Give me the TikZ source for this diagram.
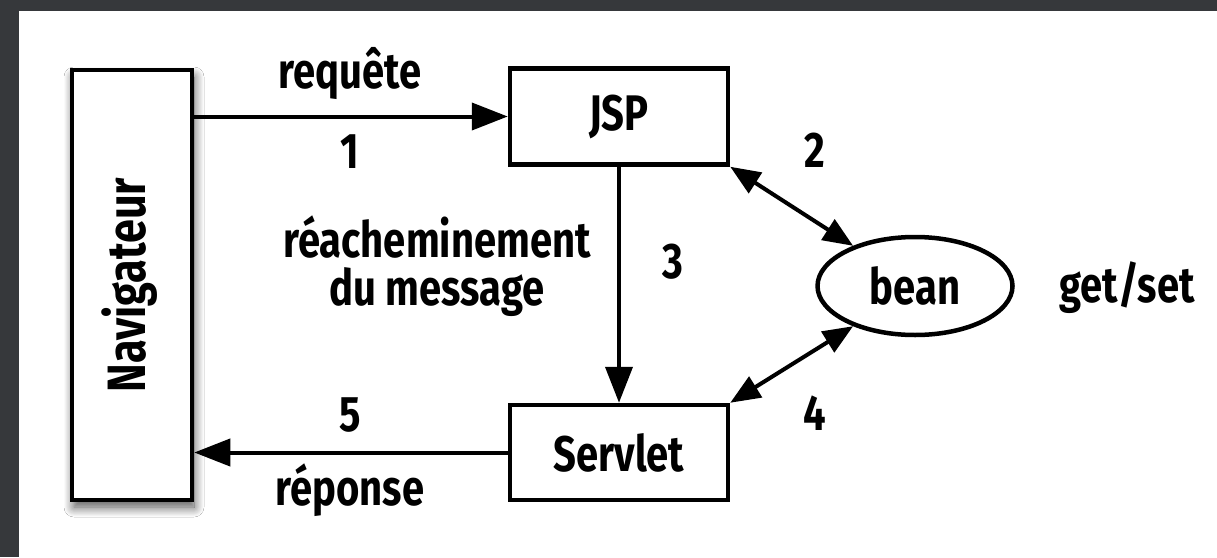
\documentclass[tikz,border=0pt]{standalone}
\usepackage{fontspec}
\setmainfont{Fira Sans}[BoldFont={Fira Sans Bold}, BoldFeatures={FakeStretch=0.8}]
\usetikzlibrary{arrows.meta,shapes.geometric,shadows.blur}
\definecolor{bgdark}{RGB}{54,56,59}
\tikzset{
  box/.style={draw, line width=4.5pt, minimum width=218pt, minimum height=96pt, inner sep=0pt, fill=white},
  lbl/.style={font=\fontsize{50}{54}\selectfont\bfseries, inner sep=0pt},
  arr/.style={line width=4pt, -{Triangle[length=36pt,width=27pt]}},
  darr/.style={line width=4pt, {Triangle[length=30pt,width=24pt]}-{Triangle[length=30pt,width=24pt]}}
}
\begin{document}
\begin{tikzpicture}[x=1pt,y=-1pt]
\useasboundingbox (0,0) rectangle (1217,557);
\fill[bgdark] (0,0) rectangle (1217,557);
\fill[white] (19,11) rectangle (1217,557);

\node[box, minimum width=120pt, minimum height=430pt,
  blur shadow={shadow xshift=2pt, shadow yshift=-7pt, shadow blur radius=10pt, shadow blur steps=14, shadow opacity=70}]
  (nav) at (132,285) {};
\node[lbl, rotate=90, font=\fontsize{54}{58}\selectfont\bfseries] (navt) at (130,285) {Navigateur};
\node[box, lbl] (jsp) at (619,116.5) {JSP};
\node[box, lbl, minimum height=95pt] (srv) at (619,452.5) {Servlet};
\node[draw, ellipse, line width=4.5pt, minimum width=195pt, minimum height=98pt, inner sep=0pt, lbl] (bean) at (915,286) {bean};

\draw[arr] (nav.east |- jsp.west) -- (jsp.west);
\draw[arr] (jsp.south) -- (srv.north);
\draw[arr] (srv.west) -- (nav.east |- srv.west);
\draw[darr] (jsp.south east) -- (bean.147);
\draw[darr] (bean.213) -- (srv.north east);

\node[lbl] (treq) at (350,73) {requête};
\node[lbl] (t1) at (350,152) {1};
\node[lbl] (t2) at (815,150) {2};
\node[lbl] (t3) at (673,262) {3};
\node[lbl] (t4) at (815,413) {4};
\node[lbl] (t5) at (350,415) {5};
\node[lbl] (trep) at (350,490) {réponse};
\node[lbl, align=center] (tre) at (437,266) {réacheminement\\[-6pt]du message};
\node[lbl] (tget) at (1127,288) {get/set};
\end{tikzpicture}
\end{document}
